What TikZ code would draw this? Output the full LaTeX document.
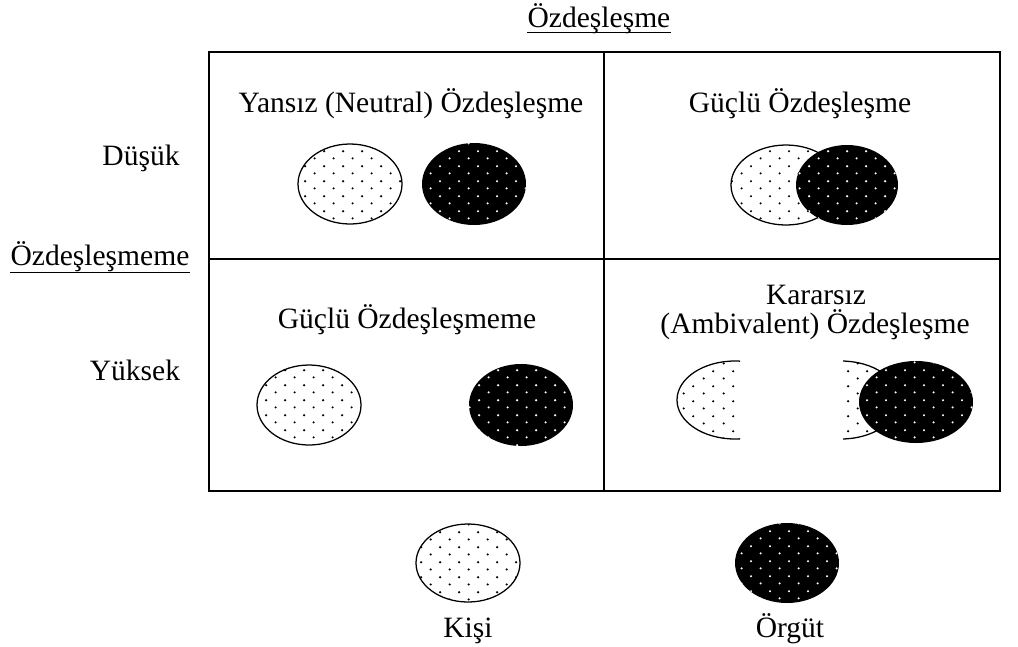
\documentclass[tikz,border=0pt]{standalone}
\usepackage{fontspec}
\setmainfont{Liberation Serif}
\usepackage{tikz}
\usetikzlibrary{patterns}
% dotted fill for the circles
\pgfdeclarepatternformonly{kdots}{\pgfpointorigin}{\pgfpoint{13.8pt}{10.4pt}}{\pgfpoint{13.8pt}{10.4pt}}{
  \pgfpathcircle{\pgfpoint{3.4pt}{2.6pt}}{0.85pt}
  \pgfpathcircle{\pgfpoint{10.3pt}{7.8pt}}{0.85pt}
  \pgfusepath{fill}}
\tikzset{
  kisi/.style={draw=black, line width=0.9pt, fill=white, postaction={pattern=kdots, pattern color=black}},
  kisipart/.style={fill=white, postaction={pattern=kdots, pattern color=black}},
  orgut/.style={fill=black, postaction={pattern=kdots, pattern color=white}},
  lbl/.style={font=\fontsize{21}{25}\selectfont, inner sep=0pt, anchor=base},
  ulin/.style={line width=0.8pt}
}

\begin{document}
\begin{tikzpicture}[x=0.025cm, y=-0.025cm]
  \useasboundingbox (0,0) rectangle (1018,646);
  % the grid
  \draw[line width=0.8pt] (209,52) rectangle (1000,491);
  \draw[line width=0.8pt] (604,52) -- (604,491);
  \draw[line width=0.8pt] (209,259) -- (1000,259);
  % axis labels
  \node[lbl] (ust) at (599,27) {Özdeşleşme};
  \draw[ulin] ([yshift=-3.8pt]ust.base west) -- ([yshift=-3.8pt]ust.base east);
  \node[lbl] (dusuk) at (141,165) {Düşük};
  \node[lbl] (sol) at (100,265) {Özdeşleşmeme};
  \draw[ulin] ([yshift=-5.6pt]sol.base west) -- ([yshift=-5.6pt]sol.base east);
  \node[lbl] (yuksek) at (135,380) {Yüksek};
  % cell titles
  \node[lbl] (yansiz) at (411,112) {Yansız (Neutral) Özdeşleşme};
  \node[lbl] (guclu) at (800,112) {Güçlü Özdeşleşme};
  \node[lbl] (gucluD) at (407,328) {Güçlü Özdeşleşmeme};
  \node[lbl] (kararsiz) at (816,304) {Kararsız};
  \node[lbl] (ambi) at (815,333) {(Ambivalent) Özdeşleşme};
  % top left
  \path[kisi] (350,184) circle [x radius=52, y radius=40];
  \path[orgut] (474,184) circle [x radius=52, y radius=41];
  % top right
  \path[kisi] (786,185) circle [x radius=55, y radius=40];
  \path[orgut] (847,185) circle [x radius=51, y radius=40];
  % bottom left
  \path[kisi] (309,405) circle [x radius=52, y radius=40];
  \path[orgut] (521,405) circle [x radius=52, y radius=41];
  % bottom right
  \begin{scope}
    \clip (600,300) rectangle (740,480);
    \path[kisipart] (735,400) circle [x radius=58, y radius=39];
    \draw[line width=0.9pt] (735,400) circle [x radius=58, y radius=39];
  \end{scope}
  \begin{scope}
    \clip (843,300) rectangle (1000,480);
    \path[kisipart] (841,400) circle [x radius=58, y radius=39];
    \draw[line width=0.9pt] (841,400) circle [x radius=58, y radius=39];
  \end{scope}
  \path[orgut] (916,402) circle [x radius=57, y radius=41];
  % legend
  \path[kisi] (468,563) circle [x radius=52, y radius=39];
  \path[orgut] (787,563) circle [x radius=52, y radius=40];
  \node[lbl] (kisi) at (468,637) {Kişi};
  \node[lbl] (orgut) at (790,637) {Örgüt};
\end{tikzpicture}
\end{document}
